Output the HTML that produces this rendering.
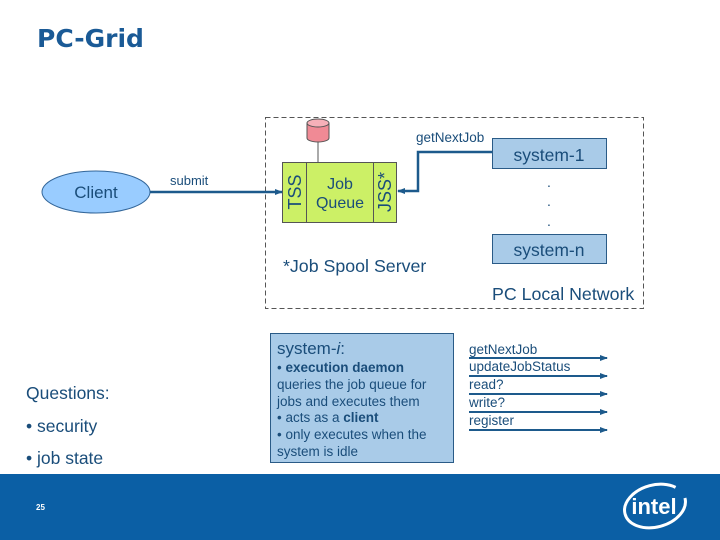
<!DOCTYPE html>
<html><head><meta charset="utf-8"><style>
html,body{margin:0;padding:0;background:#fff}
svg{display:block}
text{font-family:"Liberation Sans",Arial,sans-serif}
</style></head><body>
<svg width="720" height="540" viewBox="0 0 720 540" xmlns="http://www.w3.org/2000/svg">
<defs>
<marker id="ar" markerWidth="8" markerHeight="8" refX="7" refY="4" orient="auto" markerUnits="userSpaceOnUse"><path d="M0,1 L8,4 L0,7 Z" fill="#1d5a8c"/></marker>
</defs>
<text x="37" y="47" font-weight="bold" font-size="25" fill="#1a5a96" style="font-family:'DejaVu Sans',sans-serif">PC-Grid</text>

<rect x="265.5" y="117.5" width="378" height="191" fill="none" stroke="#555" stroke-dasharray="5,3"/>

<line x1="318" y1="140" x2="318" y2="162" stroke="#555"/>
<path d="M307,123 L307,138 A11,4 0 0 0 329,138 L329,123" fill="#f08a95" stroke="#555"/>
<ellipse cx="318" cy="123" rx="11" ry="4" fill="#f6b0b8" stroke="#555"/>

<rect x="282.5" y="162.5" width="114" height="60" fill="#ccf066" stroke="#555"/>
<line x1="306.5" y1="162" x2="306.5" y2="222" stroke="#555"/>
<line x1="373.5" y1="162" x2="373.5" y2="222" stroke="#555"/>
<text x="340" y="189" font-size="16" fill="#1a4d7a" text-anchor="middle">Job</text>
<text x="340" y="208" font-size="16" fill="#1a4d7a" text-anchor="middle">Queue</text>
<text transform="translate(301,192) rotate(-90)" font-size="18" fill="#1a4d7a" text-anchor="middle">TSS</text>
<text transform="translate(391,192) rotate(-90)" font-size="18" fill="#1a4d7a" text-anchor="middle">JSS*</text>

<ellipse cx="96" cy="192" rx="54" ry="21" fill="#99ccff" stroke="#336699"/>
<text x="96" y="198" font-size="17" fill="#1a4d7a" text-anchor="middle">Client</text>
<line x1="150" y1="192" x2="282" y2="192" stroke="#1d5a8c" stroke-width="2.5" marker-end="url(#ar)"/>
<text x="170" y="185" font-size="13" fill="#1a4d7a">submit</text>

<polyline points="492,152 418,152 418,191 398,191" fill="none" stroke="#1d5a8c" stroke-width="2.5" marker-end="url(#ar)"/>
<text x="416" y="142" font-size="13.5" fill="#1a4d7a">getNextJob</text>

<rect x="492.5" y="138.5" width="114" height="30" fill="#a9cbe8" stroke="#2a5b87"/>
<text x="549" y="161" font-size="17.5" fill="#1a4d7a" text-anchor="middle">system-1</text>
<rect x="492.5" y="234.5" width="114" height="29" fill="#a9cbe8" stroke="#2a5b87"/>
<text x="549" y="256" font-size="17.5" fill="#1a4d7a" text-anchor="middle">system-n</text>
<text x="549" y="187" font-size="14" fill="#1a4d7a" text-anchor="middle">.</text>
<text x="549" y="206" font-size="14" fill="#1a4d7a" text-anchor="middle">.</text>
<text x="549" y="226" font-size="14" fill="#1a4d7a" text-anchor="middle">.</text>

<text x="283" y="272" font-size="17.8" fill="#1a4d7a">*Job Spool Server</text>
<text x="492" y="300" font-size="17.8" fill="#1a4d7a">PC Local Network</text>

<rect x="270.5" y="333.5" width="183" height="129" fill="#a9cbe8" stroke="#2a5b87"/>
<text x="277" y="354" font-size="17" fill="#1a4d7a">system-<tspan font-style="italic">i</tspan>:</text>
<g font-size="13.5" fill="#1a4d7a">
<text x="277" y="372">• <tspan font-weight="bold">execution daemon</tspan></text>
<text x="277" y="389">queries the job queue for</text>
<text x="277" y="406">jobs and executes them</text>
<text x="277" y="422">• acts as a <tspan font-weight="bold">client</tspan></text>
<text x="277" y="439">• only executes when the</text>
<text x="277" y="456">system is idle</text>
</g>

<g font-size="13.5" fill="#1a4d7a">
<text x="469" y="354">getNextJob</text>
<text x="469" y="371">updateJobStatus</text>
<text x="469" y="389">read?</text>
<text x="469" y="407">write?</text>
<text x="469" y="425">register</text>
</g>
<g stroke="#1d5a8c" stroke-width="2" marker-end="url(#ar)">
<line x1="469" y1="358" x2="607" y2="358"/>
<line x1="469" y1="376" x2="607" y2="376"/>
<line x1="469" y1="394" x2="607" y2="394"/>
<line x1="469" y1="412" x2="607" y2="412"/>
<line x1="469" y1="430" x2="607" y2="430"/>
</g>

<g font-size="17.5" fill="#1a4d7a">
<text x="26" y="399">Questions:</text>
<text x="26" y="432">• security</text>
<text x="26" y="464">• job state</text>
</g>

<rect x="0" y="474" width="720" height="66" fill="#0b5fa5"/>
<text x="36" y="510" font-size="8" font-weight="bold" fill="#fff">25</text>
<ellipse cx="655" cy="506" rx="31" ry="21" fill="none" stroke="#fff" stroke-width="3" stroke-dasharray="150,30" transform="rotate(-15 655 506)"/>
<text x="654" y="514" font-size="22" font-weight="bold" fill="#fff" text-anchor="middle">intel</text>
</svg>
</body></html>
